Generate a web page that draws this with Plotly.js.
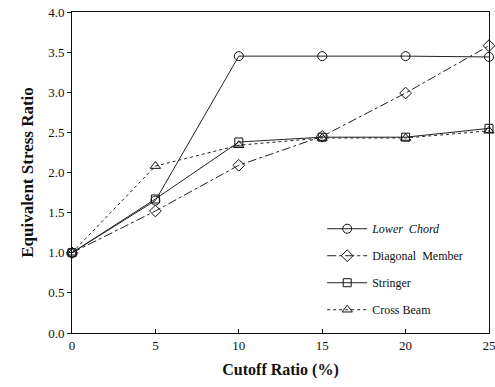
<!DOCTYPE html>
<html><head><meta charset="utf-8">
<script src="https://cdn.plot.ly/plotly-3.0.1.min.js"></script>
<style>html,body{margin:0;padding:0;background:#fff}#chart{width:495px;height:387px}</style>
</head><body><div id="chart"></div>
<script>
const cutoff = [0, 5, 10, 15, 20, 25];
const lowerChord = [1.0, 1.65, 3.45, 3.45, 3.45, 3.44];
const diagonalMember = [1.0, 1.52, 2.09, 2.45, 2.99, 3.58];
const stringer = [1.0, 1.67, 2.38, 2.44, 2.44, 2.55];
const crossBeam = [1.0, 2.08, 2.34, 2.43, 2.43, 2.52];
const xTicks = [0, 5, 10, 15, 20, 25];
const yTicks = [0, 0.5, 1, 1.5, 2, 2.5, 3, 3.5, 4];
const yTickText = ['0.0','0.5','1.0','1.5','2.0','2.5','3.0','3.5','4.0'];

const serif = 'Liberation Serif, Times New Roman, serif';
function tr(name, y, symbol, dash, size, group) {
  return {x: cutoff, y: y, name: name, type: 'scatter', mode: 'lines+markers',
    legendgroup: group, cliponaxis: false,
    line: {color: '#222', width: 1, dash: dash},
    marker: {symbol: symbol, size: size, color: '#111', line: {color: '#111', width: 1}}};
}
const data = [
  tr('<i>Lower  Chord</i>', lowerChord, 'circle-open', 'solid', 9, 'a'),
  tr('Diagonal  Member', diagonalMember, 'diamond-open', 'dashdot', 9, 'b'),
  tr('Stringer', stringer, 'square-open', 'solid', 8, 'c'),
  tr('Cross Beam', crossBeam, 'triangle-up-open', 'dot', 9, 'd')
];
const layout = {
  width: 495, height: 387,
  margin: {l: 72, r: 6, t: 12, b: 54},
  paper_bgcolor: '#fff', plot_bgcolor: '#fff',
  font: {family: serif, color: '#111', size: 12},
  showlegend: true,
  legend: {x: 0.6, y: 0.37, xanchor: 'left', yanchor: 'top', bgcolor: 'rgba(0,0,0,0)',
    font: {family: serif, size: 12, color: '#111'}, traceorder: 'grouped', tracegroupgap: 8, itemwidth: 40},
  xaxis: {range: [0, 25], tickvals: xTicks, ticktext: xTicks.map(String), ticks: 'inside', ticklen: 4,
    ticklabeloverflow: 'allow',
    tickcolor: '#111', showline: true, linecolor: '#111', linewidth: 1, mirror: true, showgrid: false, zeroline: false,
    tickfont: {family: serif, size: 13},
    title: {text: '<b>Cutoff Ratio (%)</b>', font: {family: serif, size: 16, color: '#111'}, standoff: 12}},
  yaxis: {range: [0, 4], tickvals: yTicks, ticktext: yTickText, ticks: 'outside', ticklen: 4,
    tickcolor: '#111', showline: true, linecolor: '#111', linewidth: 1, mirror: true, showgrid: false, zeroline: false,
    tickfont: {family: serif, size: 13},
    title: {text: '<b>Equivalent Stress Ratio</b>', font: {family: serif, size: 17, color: '#111'}, standoff: 10}}
};
Plotly.newPlot('chart', data, layout, {staticPlot: true, displayModeBar: false});
</script></body></html>
